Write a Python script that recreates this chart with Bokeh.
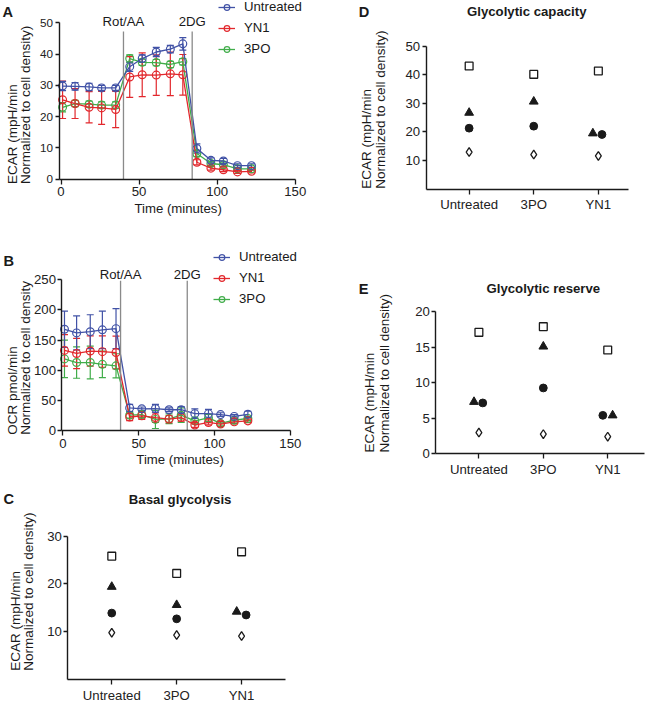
from math import pi
from bokeh.plotting import figure
from bokeh.layouts import row, column
from bokeh.models import (Range1d, FixedTicker, Label, Legend, LegendItem,
                          Whisker, TeeHead, ColumnDataSource)
from bokeh.embed import file_html
from bokeh.resources import INLINE

# ---------------- data ----------------
times = [1, 9, 18, 26, 35, 44, 52, 61, 70, 78, 87, 96, 104, 113, 122]
series_names = ["Untreated", "YN1", "3PO"]
series_colors = ["#4152a6", "#e2282d", "#41ad4a"]

ecar_untreated = [29.8, 29.7, 29.5, 29.2, 29.2, 36.0, 38.6, 40.7, 41.6, 43.3, 9.8, 6.0, 5.8, 4.3, 4.3]
ecar_untreated_err = [1.5, 1.2, 1.2, 0.8, 0.8, 1.5, 1.2, 1.5, 1.2, 2.0, 1.5, 0.8, 0.8, 0.6, 0.6]
ecar_yn1 = [25.4, 24.2, 23.0, 22.8, 22.3, 32.7, 33.4, 33.3, 33.7, 33.4, 5.4, 3.5, 3.0, 2.3, 2.5]
ecar_yn1_err = [6.0, 4.8, 5.0, 5.3, 5.8, 6.5, 7.0, 6.5, 7.0, 6.5, 0.8, 0.6, 0.6, 0.5, 0.5]
ecar_3po = [23.0, 24.2, 24.0, 23.7, 23.7, 38.6, 37.4, 37.3, 36.7, 37.6, 8.2, 5.0, 4.6, 3.3, 3.3]
ecar_3po_err = [1.5, 1.0, 1.0, 1.0, 1.0, 1.2, 1.0, 1.0, 1.0, 1.0, 1.0, 0.6, 0.6, 0.5, 0.5]

ocr_untreated = [168, 162, 164, 167, 169, 38, 36.5, 37, 35, 35, 28.5, 28.5, 27, 24, 27.5]
ocr_untreated_err = [30, 28, 28, 31, 33, 6, 3, 7, 3, 5, 8, 7, 3, 3, 5]
ocr_yn1 = [133, 128, 132, 131, 129.5, 23, 25, 22, 19.5, 22, 9.7, 14, 11.3, 15, 16.6]
ocr_yn1_err = [26, 25, 25, 26, 27, 6, 6, 8, 6, 6, 4, 4, 4, 3, 3]
ocr_3po = [119, 113, 113, 110, 107.5, 26, 27, 19, 20, 26, 16.6, 21.5, 12.4, 17.7, 20.5]
ocr_3po_err = [31, 26, 27, 22, 20, 5, 5, 15, 8, 12, 5, 6, 3, 3, 3]

inject_labels = ["Rot/AA", "2DG"]
inject_times_ecar = [40, 84]
inject_times_ocr = [38, 82]

groups = ["Untreated", "3PO", "YN1"]
marker_kinds = ["square", "triangle", "circle", "diamond"]

basal_square = [25.8, 22.2, 26.7]
basal_triangle = [19.4, 15.6, 14.2]
basal_circle = [13.9, 12.7, 13.5]
basal_diamond = [9.8, 9.3, 9.1]

capacity_square = [43.0, 40.1, 41.3]
capacity_triangle = [26.7, 30.6, 19.5]
capacity_circle = [21.3, 22.0, 19.1]
capacity_diamond = [12.95, 12.1, 11.6]

reserve_square = [17.1, 17.9, 14.6]
reserve_triangle = [7.3, 15.1, 5.4]
reserve_circle = [7.15, 9.26, 5.4]
reserve_diamond = [2.97, 2.75, 2.4]

# ---------------- styling / layout helpers ----------------
S = 0.976
FONT = "Liberation Sans"
INK = "#1a1a1a"
TXT = 13.5


def fs(px):
    return f"{px * S:.1f}px"


def make_panel(box, xmap, ymap, yaxis_px):
    """Frame covers the whole box; axes are pinned inside it."""
    bx0, by0, bx1, by1 = box
    W = round((bx1 - bx0) * S)
    H = round((by1 - by0) * S)
    xp0, xppu = xmap
    yp0, yppu = ymap
    xr = Range1d((bx0 - xp0) / xppu, (bx0 + W / S - xp0) / xppu)
    yr = Range1d((yp0 - (by0 + H / S)) / yppu, (yp0 - by0) / yppu)
    p = figure(width=W, height=H, x_range=xr, y_range=yr, title=None,
               output_backend="svg", toolbar_location=None,
               min_border_left=0, min_border_right=0,
               min_border_top=0, min_border_bottom=0)
    p.xgrid.visible = False
    p.ygrid.visible = False
    p.outline_line_color = None
    p.background_fill_color = "white"
    p.border_fill_color = "white"
    p.xaxis.fixed_location = 0
    p.yaxis.fixed_location = (yaxis_px - xp0) / xppu

    def conv(X, Y):
        return (X - xp0) / xppu, (yp0 - Y) / yppu
    return p, conv


def style_axes(p, xticks, yticks, xbounds, ybounds, ysize=TXT, xlabels=None):
    p.xaxis.ticker = FixedTicker(ticks=xticks)
    p.yaxis.ticker = FixedTicker(ticks=yticks)
    p.xaxis.bounds = xbounds
    p.yaxis.bounds = ybounds
    for ax in p.axis:
        ax.axis_line_width = 1.4
        ax.axis_line_color = INK
        ax.major_tick_line_color = INK
        ax.major_tick_line_width = 1.3
        ax.major_tick_in = 0
        ax.minor_tick_line_color = None
        ax.major_label_text_font = FONT
        ax.major_label_text_color = "#222222"
    p.xaxis.major_tick_out = 5
    p.xaxis.major_label_standoff = 3
    p.xaxis.major_label_text_font_size = fs(TXT)
    p.yaxis.major_tick_out = 4
    p.yaxis.major_label_standoff = 2
    p.yaxis.major_label_text_font_size = fs(ysize)
    if xlabels is not None:
        p.xaxis.major_label_overrides = {t: lab for t, lab in zip(xticks, xlabels)}


def add_text(p, x, y, text, size=TXT, bold=False, angle=0.0, align="center",
             baseline="middle"):
    p.add_layout(Label(x=x, y=y, text=text, text_font=FONT,
                       text_font_size=fs(size),
                       text_font_style="bold" if bold else "normal",
                       text_color="#1a1a1a", angle=angle,
                       text_align=align, text_baseline=baseline))


def ref_text(p, conv, X, Y, text, **kw):
    x, y = conv(X, Y)
    add_text(p, x, y, text, **kw)


def ylabels(p, conv, X1, X2, Y, line1, line2):
    ref_text(p, conv, X1, Y, line1, size=13.8, angle=pi / 2, align="left")
    ref_text(p, conv, X2, Y, line2, size=13.8, angle=pi / 2, align="left")


# ---------------- time course panels ----------------
def time_panel(p, conv, box, series, inj_times, inj_line_top, inj_label_y,
               legend_ref, letter_xy, ylab_pos, ylab_text, time_label_xy):
    items = []
    for name, color, vals, errs in series:
        src = ColumnDataSource(dict(
            t=times, y=vals,
            lo=[v - e for v, e in zip(vals, errs)],
            hi=[v + e for v, e in zip(vals, errs)]))
        p.add_layout(Whisker(
            source=src, base="t", lower="lo", upper="hi",
            line_color=color, line_width=1.2,
            upper_head=TeeHead(size=7, line_color=color, line_width=1.2),
            lower_head=TeeHead(size=7, line_color=color, line_width=1.2)))
        l = p.line("t", "y", source=src, line_color=color, line_width=1.3)
        s = p.scatter("t", "y", source=src, marker="circle", size=8 * S,
                      line_color=color, fill_color=None, line_width=1.2)
        items.append((name, LegendItem(label=name, renderers=[l, s])))
    order = {n: i for i, n in enumerate(series_names)}
    items.sort(key=lambda it: order[it[0]])
    p.segment(x0=inj_times, y0=[0] * len(inj_times), x1=inj_times,
              y1=[inj_line_top] * len(inj_times), line_color="#8a8a8a",
              line_width=1.3)
    for t, lab in zip(inj_times, inject_labels):
        add_text(p, t, inj_label_y, lab)
    # legend: left edge of glyphs and bottom of last item, in reference px
    lx = round((legend_ref[0] - box[0]) * S)
    ly = round((box[3] - legend_ref[1]) * S)
    leg = Legend(items=[it[1] for it in items], location=(lx, ly),
                 background_fill_alpha=0, border_line_alpha=0, padding=0,
                 margin=0, spacing=round(6 * S), glyph_height=round(14 * S),
                 label_height=round(14 * S), glyph_width=round(17 * S),
                 label_standoff=round(9 * S), label_text_font=FONT,
                 label_text_font_size=fs(TXT), label_text_color="#1a1a1a")
    p.add_layout(leg)
    ref_text(p, conv, letter_xy[0], letter_xy[1], letter_xy[2], size=15,
             bold=True, align="left")
    ylabels(p, conv, ylab_pos[0], ylab_pos[1], ylab_pos[2], ylab_text[0],
            ylab_text[1])
    ref_text(p, conv, time_label_xy[0], time_label_xy[1], "Time (minutes)")


boxA = (0, 0, 340, 250)
pA, cA = make_panel(boxA, (62, 1.6), (183, 3.2), 60)
style_axes(pA, [0, 50, 100, 150], [0, 10, 20, 30, 40, 50],
           (pA.yaxis.fixed_location, 150), (0, 50), ysize=12)
time_panel(pA, cA, boxA,
           [("3PO", series_colors[2], ecar_3po, ecar_3po_err),
            ("YN1", series_colors[1], ecar_yn1, ecar_yn1_err),
            ("Untreated", series_colors[0], ecar_untreated, ecar_untreated_err)],
           inject_times_ecar, 47.3, 50.4, (223, 57),
           (2, 12, "A"), (12, 26, 188),
           ("ECAR (mpH/min", "Normalized to cell density)"), (182, 213))

boxB = (0, 250, 340, 490)
pB, cB = make_panel(boxB, (64, 1.553), (441, 0.62), 63)
style_axes(pB, [0, 50, 100, 150], [0, 50, 100, 150, 200, 250],
           (pB.yaxis.fixed_location, 150), (0, 250))
time_panel(pB, cB, boxB,
           [("3PO", series_colors[2], ocr_3po, ocr_3po_err),
            ("YN1", series_colors[1], ocr_yn1, ocr_yn1_err),
            ("Untreated", series_colors[0], ocr_untreated, ocr_untreated_err)],
           inject_times_ocr, 248, 258, (218, 314),
           (3, 267, "B"), (12, 26, 445),
           ("OCR pmol/min", "Normalized to cell density"), (184, 470))


# ---------------- dot panels ----------------
def dot_panel(p, conv, values, jitter, title, title_xy, letter_xy, ylab_pos):
    cat_pos = [i + 1 for i in range(len(groups))]
    styles = {
        "square": dict(size=8 * S, fill_color="white", line_color=INK, line_width=1.3),
        "triangle": dict(size=9 * S, fill_color=INK, line_color=INK, line_width=1),
        "circle": dict(size=8 * S, fill_color=INK, line_color=INK, line_width=1),
        "diamond": dict(size=9 * S, fill_color="white", line_color=INK, line_width=1.3),
    }
    for kind, vals in zip(marker_kinds, values):
        offs = jitter.get(kind, [0] * len(groups))
        xs = [c + o for c, o in zip(cat_pos, offs)]
        p.scatter(xs, vals, marker=kind, **styles[kind])
    ref_text(p, conv, title_xy[0], title_xy[1], title, bold=True)
    ref_text(p, conv, letter_xy[0], letter_xy[1], letter_xy[2], size=15,
             bold=True, align="left")
    ylabels(p, conv, ylab_pos[0], ylab_pos[1], ylab_pos[2],
            "ECAR (mpH/min", "Normalized to cell density)")


def cat_bounds(xmap, left_px, right_px):
    return ((left_px - xmap[0]) / xmap[1], (right_px - xmap[0]) / xmap[1])


xmapC = (114 - 66.5, 66.5)
pC, cC = make_panel((0, 490, 340, 719), xmapC, (696, 4.9), 69)
style_axes(pC, [1, 2, 3], [10, 20, 30], cat_bounds(xmapC, 69, 292), (0, 30),
           xlabels=groups)
dot_panel(pC, cC, [basal_square, basal_triangle, basal_circle, basal_diamond],
          {"triangle": [0, 0, -0.075], "circle": [0, 0, 0.07]},
          "Basal glycolysis", (184, 512), (3, 511, "C"), (15, 29, 687))

xmapD = (480 - 66.2, 66.2)
pD, cD = make_panel((340, 0, 667, 250), xmapD, (193.3, 2.933), 436)
style_axes(pD, [1, 2, 3], [10, 20, 30, 40, 50], cat_bounds(xmapD, 436, 643),
           (0, 50), xlabels=groups)
dot_panel(pD, cD, [capacity_square, capacity_triangle, capacity_circle, capacity_diamond],
          {"triangle": [0, 0, -0.085], "circle": [0, 0, 0.056]},
          "Glycolytic capacity", (539, 11), (367, 12, "D"), (375, 389, 193))

xmapE = (490 - 66, 66)
pE, cE = make_panel((340, 250, 667, 719), xmapE, (464.3, 7.27), 446)
style_axes(pE, [1, 2, 3], [0, 5, 10, 15, 20], cat_bounds(xmapE, 446, 660),
           (0, 20), xlabels=groups)
dot_panel(pE, cE, [reserve_square, reserve_triangle, reserve_circle, reserve_diamond],
          {"triangle": [-0.076, 0, 0.076], "circle": [0.06, 0, -0.076]},
          "Glycolytic reserve", (556, 295), (367, 296, "E"), (378, 393, 463))

layout = row(column(pA, pB, pC), column(pD, pE))
open("out.html", "w").write(file_html(layout, INLINE))
